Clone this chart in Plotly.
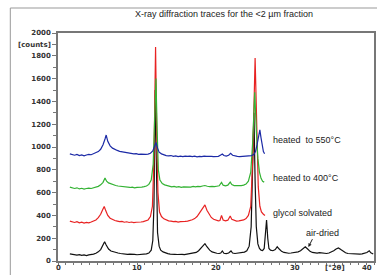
import plotly.graph_objects as go

# ---- data (2theta in degrees, intensity in counts) ----
air_x = [1.5,1.8,2.1,2.4,2.7,3.0,3.3,3.6,3.9,4.2,4.5,4.8,5.1,5.4,5.65,5.9,6.1,6.4,6.7,7.0,7.3,7.6,7.9,8.2,8.5,8.8,9.1,9.4,9.7,10.0,10.3,10.6,10.9,11.2,11.5,11.8,12.0,12.15,12.3,12.45,12.6,12.8,13.0,13.3,13.6,13.9,14.2,14.5,14.8,15.1,15.4,15.7,16.0,16.3,16.6,16.9,17.2,17.5,17.8,18.1,18.35,18.6,18.85,19.2,19.5,19.8,20.1,20.4,20.6,20.8,21.0,21.3,21.6,21.9,22.1,22.4,22.7,23.0,23.3,23.6,23.9,24.2,24.45,24.65,24.8,24.95,25.1,25.3,25.5,25.7,25.9,26.1,26.25,26.4,26.55,26.7,26.9,27.2,27.5,27.75,28.0,28.3,28.6,28.9,29.2,29.5,29.8,30.1,30.4,30.7,31.0,31.3,31.6,31.9,32.2,32.5,32.8,33.1,33.4,33.7,34.0,34.3,34.6,34.9,35.2,35.5,35.8,36.1,36.4,36.7,37.0,37.3,37.6,37.9,38.2,38.5,38.8,39.1,39.4,39.6,39.9]
air_y = [62,58,55,52,56,50,53,48,54,55,60,68,80,100,130,168,140,105,88,80,72,70,66,62,64,58,60,56,58,55,57,55,60,62,70,95,180,500,1500,700,250,130,95,80,70,65,60,62,58,57,60,58,56,60,62,65,68,75,90,110,135,152,125,95,80,72,68,66,70,88,68,65,70,88,70,66,68,70,72,78,90,130,300,800,1300,700,300,150,110,95,92,110,220,360,200,110,95,90,100,125,105,85,75,70,68,70,72,75,80,90,105,125,105,85,75,72,70,74,70,65,66,70,78,90,105,115,100,82,72,66,64,62,60,63,60,62,66,75,90,72,62]

gly_x = [1.5,1.8,2.1,2.4,2.7,3.0,3.3,3.6,3.9,4.2,4.5,4.8,5.1,5.4,5.65,5.85,6.05,6.3,6.6,6.9,7.2,7.5,7.8,8.1,8.4,8.7,9.0,9.3,9.6,9.9,10.2,10.5,10.8,11.1,11.4,11.7,11.95,12.15,12.35,12.5,12.65,12.85,13.1,13.4,13.7,14.0,14.3,14.6,14.9,15.2,15.5,15.8,16.1,16.4,16.7,17.0,17.3,17.6,17.9,18.2,18.4,18.6,18.85,19.1,19.4,19.7,20.0,20.3,20.5,20.7,20.9,21.2,21.5,21.8,22.0,22.3,22.6,22.9,23.2,23.5,23.8,24.1,24.4,24.65,24.95,25.15,25.35,25.55,25.75,26.0,26.2]
gly_y = [350,342,338,345,335,340,332,338,335,342,348,360,380,410,450,478,440,400,375,362,355,350,345,348,340,344,338,342,336,340,338,342,345,350,360,390,480,900,1877,1100,600,430,390,370,360,352,350,345,348,342,346,344,348,350,355,362,372,390,420,455,480,492,445,410,382,366,358,352,355,400,360,352,358,395,365,355,350,352,355,360,372,400,480,900,1780,1100,650,480,430,410,400]

h400_x = [1.5,1.8,2.1,2.4,2.7,3.0,3.3,3.6,3.9,4.2,4.5,4.8,5.1,5.4,5.7,5.95,6.15,6.4,6.7,7.0,7.3,7.6,7.9,8.2,8.5,8.8,9.1,9.4,9.7,10.0,10.3,10.6,10.9,11.2,11.5,11.8,12.05,12.25,12.4,12.55,12.7,12.9,13.2,13.5,13.8,14.1,14.4,14.7,15.0,15.3,15.6,15.9,16.2,16.5,16.8,17.1,17.4,17.7,18.0,18.3,18.6,18.9,19.2,19.5,19.8,20.1,20.4,20.7,20.9,21.2,21.5,21.8,22.0,22.3,22.6,22.9,23.2,23.5,23.8,24.1,24.4,24.65,24.9,25.1,25.3,25.5,25.7,25.9,26.1]
h400_y = [648,640,636,642,632,638,630,636,640,636,642,648,655,668,690,728,700,685,675,668,662,658,655,652,648,650,645,648,642,646,644,648,652,658,672,710,850,1300,1600,1150,800,710,680,668,660,655,650,654,648,652,646,650,648,652,648,654,650,655,652,658,662,656,652,655,652,656,660,690,665,660,665,692,670,662,660,664,662,666,675,700,780,1050,1480,1150,900,780,725,700,692]

h550_x = [1.5,1.8,2.1,2.4,2.7,3.0,3.3,3.6,3.9,4.2,4.5,4.8,5.1,5.4,5.7,5.95,6.1,6.3,6.6,6.9,7.2,7.5,7.8,8.1,8.4,8.7,9.0,9.3,9.6,9.9,10.2,10.5,10.8,11.1,11.4,11.7,12.0,12.2,12.4,12.6,12.8,13.1,13.4,13.7,14.0,14.3,14.6,14.9,15.2,15.5,15.8,16.1,16.4,16.7,17.0,17.3,17.6,17.9,18.2,18.5,18.8,19.1,19.4,19.7,20.0,20.3,20.6,20.8,21.0,21.3,21.6,21.85,22.1,22.4,22.7,23.0,23.3,23.6,23.9,24.2,24.5,24.8,25.0,25.2,25.4,25.55,25.7,25.85,26.0,26.15]
h550_y = [940,932,928,935,925,930,922,930,935,932,940,948,960,980,1020,1070,1105,1050,1010,990,978,970,962,958,952,950,946,944,940,942,936,938,934,936,938,945,965,1000,1040,990,955,940,930,925,922,925,918,922,916,920,915,920,917,920,915,919,914,918,915,920,918,915,918,916,920,918,930,938,925,920,928,945,928,920,918,916,918,915,918,920,925,935,960,1020,1100,1150,1080,1000,960,940]

series_names = ["air-dried", "glycol solvated", "heated to 400°C", "heated  to 550°C"]
series_colors = ["#111111", "#e82222", "#33b233", "#1c2aa6"]

y_tickvals = [0, 200, 400, 600, 800, 1000, 1200, 1400, 1600, 1800, 1900, 2000]
y_ticktext = ["0", "200", "400", "600", "800", "1000", "1200", "1400", "1600", "1800", "[counts]", "2000"]
x_tickvals = [0, 10, 20, 30, 35, 40]
x_ticktext = ["0", "10", "20", "30", "[°2θ]", "40"]

title_text = "X-ray diffraction traces for the <2 µm fraction"

# ---- figure ----
fig = go.Figure()
for xs, ys, name, col in zip([air_x, gly_x, h400_x, h550_x], [air_y, gly_y, h400_y, h550_y],
                             series_names, series_colors):
    fig.add_trace(go.Scatter(x=xs, y=ys, mode="lines", name=name,
                             line=dict(color=col, width=1.2), hoverinfo="skip"))

tickfont = dict(family="DejaVu Sans", size=7, color="#333", weight="bold")

label_pos = [(31.1, 246), (27.0, 421), (27.0, 728), (27.0, 1061)]
annotations = []
for (lx, ly), name in zip(label_pos, series_names):
    annotations.append(dict(x=lx, y=ly, xref="x", yref="y", text=name, showarrow=False,
                            xanchor="left", yanchor="middle",
                            font=dict(family="Liberation Sans, Arial", size=9, color="#222")))
annotations.append(dict(x=31.7, y=123, ax=32.3, ay=205, xref="x", yref="y", axref="x", ayref="y",
                        text="", showarrow=True, arrowhead=2, arrowsize=0.7, arrowwidth=1,
                        arrowcolor="#222"))
# x tick labels placed just below the axis
for tv, tt in zip(x_tickvals, x_ticktext):
    annotations.append(dict(x=tv, y=-7/228, xref="x", yref="paper", text=tt, showarrow=False,
                            xanchor="right" if tv == 40 else "center", yanchor="middle",
                            font=tickfont))

fig.update_layout(
    width=377, height=275,
    margin=dict(l=58, r=1, t=33, b=14),
    paper_bgcolor="white", plot_bgcolor="white",
    showlegend=False,
    title=dict(text=title_text, x=224/377, xanchor="center", y=1-14/275, yanchor="middle",
               font=dict(family="Liberation Sans, Arial", size=9, color="#222")),
    annotations=annotations,
    shapes=[dict(type="rect", xref="paper", yref="paper",
                 x0=-48/318, x1=1.2, y0=-0.3, y1=1+25/228,
                 line=dict(color="#999", width=1), layer="below")],
    xaxis=dict(range=[0, 40], showgrid=False, zeroline=False, showline=True, linecolor="#777",
               linewidth=1.5, mirror=True, ticks="outside", ticklen=2, tickcolor="#777",
               tickvals=x_tickvals, showticklabels=False,
               minor=dict(dtick=1, ticks="outside", ticklen=2, tickcolor="#777")),
    yaxis=dict(range=[0, 2000], showgrid=False, zeroline=False, showline=True, linecolor="#777",
               linewidth=1.5, mirror=True, ticks="outside", ticklen=4, tickcolor="#777",
               tickvals=y_tickvals, ticktext=y_ticktext, tickfont=tickfont,
               minor=dict(dtick=100, ticks="outside", ticklen=3, tickcolor="#777")),
)

fig.write_html("out.html", config={"displayModeBar": False},
               post_script="document.body.style.margin='0';")
